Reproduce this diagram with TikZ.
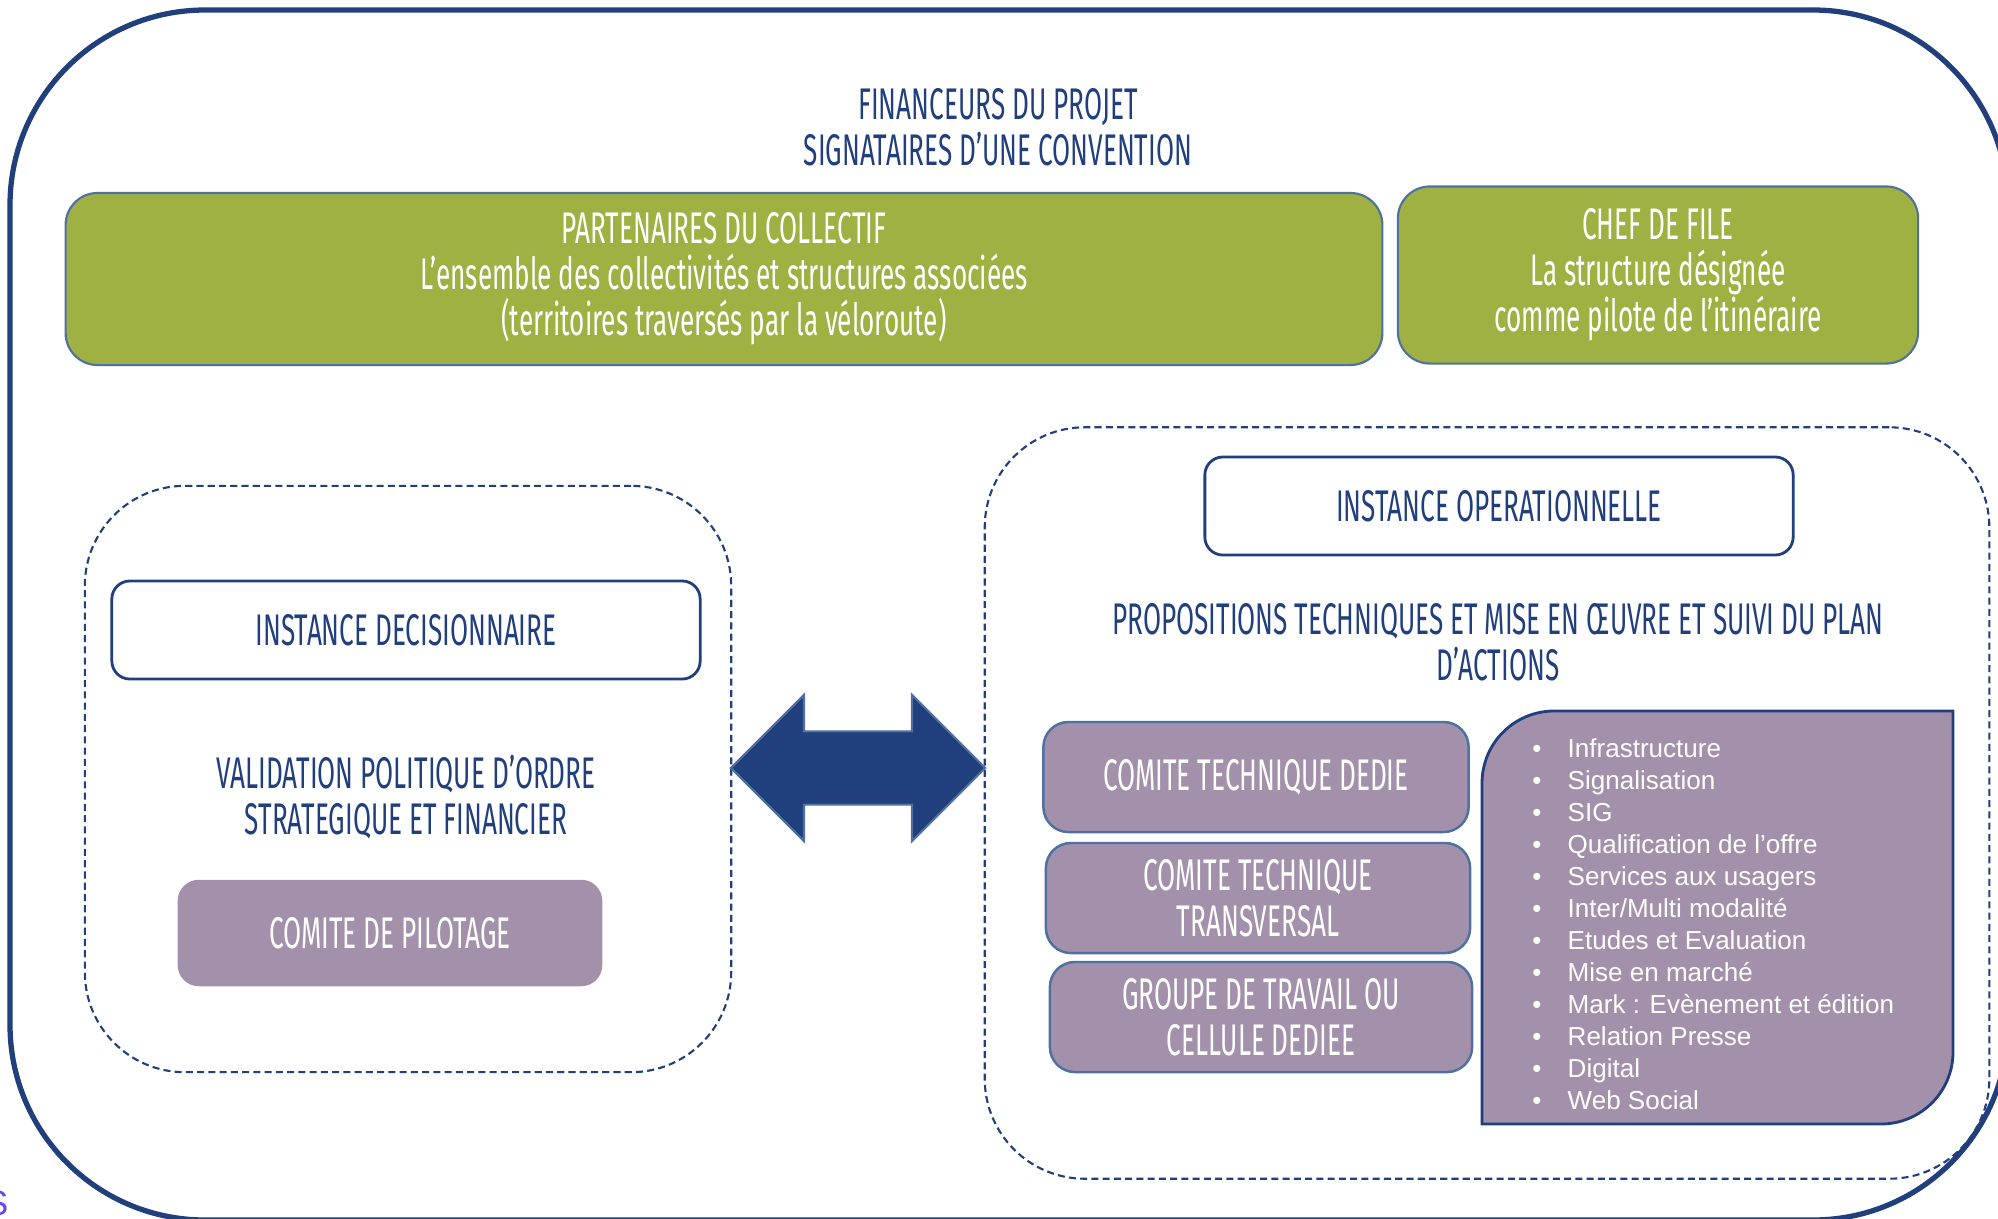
\documentclass[tikz,border=0pt]{standalone}
\usepackage{fontspec}
\setmainfont{Liberation Sans}
\newfontfamily\agency[FakeStretch=0.59]{Fira Sans}
\usepackage{tikz}
\usetikzlibrary{shapes.arrows}
\usetikzlibrary{positioning}
\definecolor{navy}{RGB}{33,62,125}
\definecolor{leafgreen}{RGB}{159,177,67}
\definecolor{mauve}{RGB}{163,145,172}
\definecolor{edgeblue}{RGB}{79,113,160}
\definecolor{violetS}{RGB}{106,70,240}
\newcommand{\agencysize}{\agency\fontsize{12.6}{13.1}\selectfont}
\tikzstyle{caption} = [font=\agencysize, text=navy, align=center]
\tikzstyle{greenbox} = [rectangle, rounded corners=0.32cm, draw=edgeblue, line width=0.6pt, fill=leafgreen, text=white, font=\agencysize, align=center]
\tikzstyle{instance} = [rectangle, rounded corners=0.18cm, draw=navy, line width=0.8pt, fill=white, text=navy, font=\agencysize, minimum width=5.88cm, minimum height=0.98cm]
\tikzstyle{comite} = [rectangle, rounded corners=0.25cm, draw=edgeblue, line width=0.7pt, fill=mauve, text=white, font=\agencysize, align=center]
\tikzstyle{dashgroup} = [rectangle, rounded corners=1cm, draw=navy, line width=0.6pt, dash pattern=on 2pt off 1.2pt]
\tikzstyle{link} = [double arrow, fill=navy, draw=edgeblue, line width=0.6pt, inner sep=0pt, minimum height=2.54cm, double arrow head extend=0.365cm, double arrow tip angle=90]
\tikzstyle{listitem} = [anchor=base west, inner sep=0pt, text=white, font=\fontsize{7.4}{9}\selectfont]

\begin{document}
\begin{tikzpicture}[x=0.01cm, y=-0.01cm]
    \useasboundingbox (0,0) rectangle (1998,1218);
    \draw[navy, line width=1.5pt, rounded corners=1.95cm] (10,10) rectangle (2008,1220);

    \node (financeurs) [caption] at (998,127) {FINANCEURS DU PROJET\\SIGNATAIRES D’UNE CONVENTION};
    \node (partenaires) [greenbox, minimum width=13.16cm, minimum height=1.72cm] at (724,279) {PARTENAIRES DU COLLECTIF\\L’ensemble des collectivités et structures associées\\(territoires traversés par la véloroute)};
    \node (chef) [greenbox, minimum width=5.2cm, minimum height=1.77cm] at (1658,275) {CHEF DE FILE\\La structure désignée\\comme pilote de l’itinéraire};

    \node (decgroup) [dashgroup, minimum width=6.46cm, minimum height=5.86cm] at (408,779) {};
    \node (decision) [instance] at (406,630) {INSTANCE DECISIONNAIRE};
    \node (validation) [caption] at (406,797) {VALIDATION POLITIQUE D’ORDRE\\STRATEGIQUE ET FINANCIER};
    \node (copil) [comite, draw=mauve, rounded corners=0.2cm, minimum width=4.22cm, minimum height=1.04cm] at (390,933) {COMITE DE PILOTAGE};

    \node (opgroup) [dashgroup, minimum width=10.04cm, minimum height=7.51cm] at (1487,803) {};
    \node (operation) [instance] at (1499,506) {INSTANCE OPERATIONNELLE};
    \node (propositions) [caption] at (1498,642) {PROPOSITIONS TECHNIQUES ET MISE EN ŒUVRE ET SUIVI DU PLAN\\D’ACTIONS};
    \node (dedie) [comite, minimum width=4.25cm, minimum height=1.1cm] at (1256,777) {COMITE TECHNIQUE DEDIE};
    \node (transversal) [comite, minimum width=4.24cm, minimum height=1.1cm] at (1258,898) {COMITE TECHNIQUE\\TRANSVERSAL};
    \node (groupe) [comite, minimum width=4.22cm, minimum height=1.1cm] at (1261,1017) {GROUPE DE TRAVAIL OU\\CELLULE DEDIEE};

    \draw[navy, line width=0.8pt, fill=mauve] (1700,711) -- (1953,711) [rounded corners=0.72cm] -- (1953,1124) [sharp corners] -- (1482,1124) [rounded corners=0.72cm] -- (1482,711) [sharp corners] -- cycle;
    \foreach \i/\item in {1/Infrastructure, 2/Signalisation, 3/SIG, 4/Qualification de l’offre, 5/Services aux usagers, 6/Inter\slash Multi modalité, 7/Etudes et Evaluation, 8/Mise en marché, 9/Mark : Evènement et édition, 10/Relation Presse, 11/Digital, 12/Web Social} {
        \node (bullet\i) [listitem, anchor=base] at (1537,{757+32*(\i-1)}) {•};
        \node (item\i) [listitem] at (1567,{757+32*(\i-1)}) {\item};
    }

    \node (bridge) [link] at (858,768) {\rule{0pt}{0.71cm}};

    \node (cutoff) [anchor=east, inner sep=0pt, text=violetS, font=\fontsize{10}{12}\selectfont] at (9,1203) {S};
\end{tikzpicture}
\end{document}
